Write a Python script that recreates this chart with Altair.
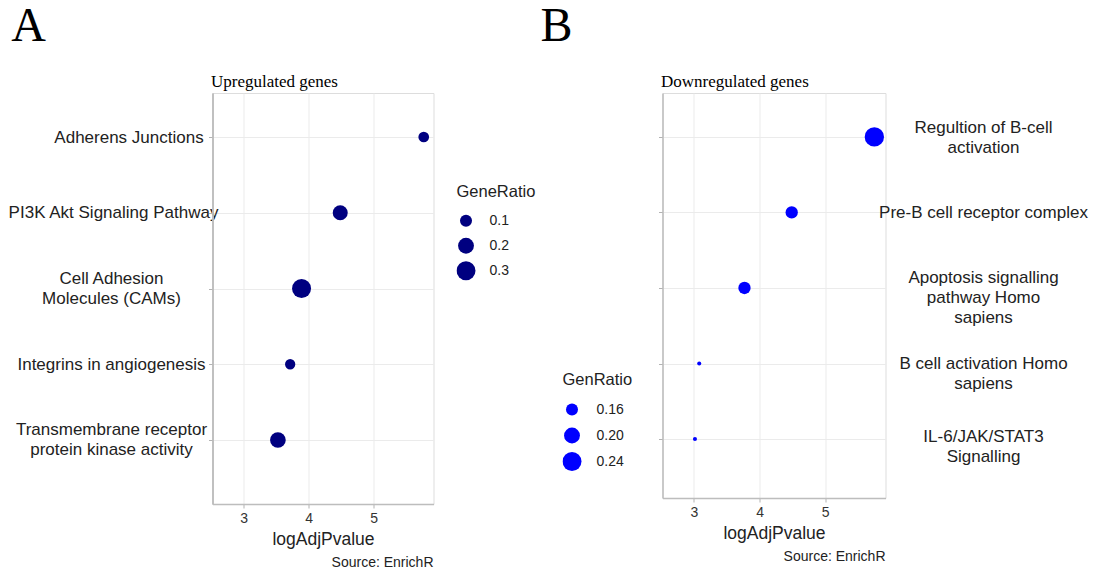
import json
import altair as alt
import pandas as pd

# ---------------- data ----------------
up_terms = [
    "Adherens Junctions",
    "PI3K Akt Signaling Pathway",
    "Cell Adhesion\nMolecules (CAMs)",
    "Integrins in angiogenesis",
    "Transmembrane receptor\nprotein kinase activity",
]
up_logp = [5.77, 4.485, 3.89, 3.715, 3.526]
up_ratio = [0.073, 0.175, 0.30, 0.065, 0.194]
up_legend_values = [0.1, 0.2, 0.3]

down_terms = [
    "Regultion of B-cell\nactivation",
    "Pre-B cell receptor complex",
    "Apoptosis signalling\npathway Homo\nsapiens",
    "B cell activation Homo\nsapiens",
    "IL-6/JAK/STAT3\nSignalling",
]
down_logp = [5.75, 4.49, 3.77, 3.08, 3.015]
down_ratio = [0.245, 0.163, 0.163, 0.113, 0.113]
down_legend_values = [0.16, 0.20, 0.24]

x_grid_values = [3, 3.5, 4, 4.5, 5, 5.5]
x_domain = [2.52, 5.92]
caption_text = "Source: EnrichR"

SANS = "Liberation Sans"
SERIF = "Liberation Serif"
DOMAIN_GREY = "#bdbdbd"
TICK_GREY = "#b3b3b3"
GRID_GREY = "#ebebeb"


def make_panel(terms, logp, ratio, legend_title, legend_vals, legend_fmt, color,
               letter, subtitle, labels_side, width, height, y_domain, legend_xy,
               label_padding, label_offset, title_dx, clip_h, lab_off):
    ranks = list(range(1, len(terms) + 1))
    df = pd.DataFrame({"rank": ranks, "term": terms, "logAdjPvalue": logp, "ratio": ratio})
    label_lines = json.dumps([t.split("\n") for t in terms])
    size_dom = [legend_vals[0], legend_vals[-1]]
    y_scale = alt.Scale(domain=y_domain, reverse=True, nice=False, zero=False)
    on_left = labels_side == "left"

    points = alt.Chart(df).mark_circle(color=color, opacity=1).encode(
        x=alt.X(
            "logAdjPvalue:Q",
            scale=alt.Scale(domain=x_domain, nice=False, zero=False),
            axis=alt.Axis(
                values=x_grid_values,
                format="d",
                labelExpr="datum.value % 1 === 0 ? datum.label : ''",
                title="logAdjPvalue",
                titleFont=SANS, titleFontSize=17.5, titleFontWeight="normal",
                titleColor="#222222", titlePadding=5,
                labelFont=SANS, labelFontSize=14, labelColor="#333333",
                labelPadding=3, labelFlush=False,
                tickSize=4, tickColor=TICK_GREY,
                tickOpacity={"condition": {"test": "datum.value % 1 !== 0", "value": 0}, "value": 1},
                gridColor=GRID_GREY, gridWidth=1,
                domainColor=DOMAIN_GREY, domainWidth=1.5,
            ),
        ),
        y=alt.Y(
            "rank:Q",
            scale=y_scale,
            axis=alt.Axis(
                orient=labels_side,
                values=ranks,
                title=None,
                labelExpr=label_lines + "[datum.value - 1]",
                labelAlign="center", labelBaseline="middle",
                labelPadding=label_padding, labelOffset=label_offset,
                labelFont=SANS, labelFontSize=17, labelColor="#222222",
                labelLineHeight=20, labelLimit=500, labelOverlap=False,
                labelFlush=False,
                ticks=on_left, tickSize=4, tickColor=TICK_GREY,
                domain=on_left, domainColor=DOMAIN_GREY, domainWidth=1.5,
                gridColor=GRID_GREY, gridWidth=1,
            ),
        ),
        size=alt.Size(
            "ratio:Q",
            scale=alt.Scale(domain=size_dom, range=[144, 361]),
            legend=alt.Legend(
                title=legend_title,
                orient="none", legendX=legend_xy[0], legendY=legend_xy[1],
                values=legend_vals, format=legend_fmt,
                titleFont=SANS, titleFontSize=16.5, titleFontWeight="normal",
                titleColor="#222222", titlePadding=8,
                labelFont=SANS, labelFontSize=14, labelColor="#222222",
                labelOffset=lab_off, clipHeight=clip_h, rowPadding=0,
                symbolFillColor=color, symbolStrokeColor=color,
                symbolStrokeWidth=0, symbolOpacity=1, padding=0,
            ),
        ),
    )

    # left-hand axis line, ticks and the panel subtitle (no labels)
    left_axis = alt.Chart(df).mark_point(opacity=0).encode(
        y=alt.Y(
            "rank:Q",
            scale=y_scale,
            axis=alt.Axis(
                orient="left", values=ranks, labels=False, grid=False,
                title=subtitle, titleAngle=0, titleAlign="left",
                titleBaseline="alphabetic", titleX=-2, titleY=-7,
                titleFont=SERIF, titleFontSize=17, titleFontWeight="normal",
                titleColor="black",
                ticks=True, tickSize=4, tickColor=TICK_GREY,
                domain=True, domainColor=DOMAIN_GREY, domainWidth=1.5,
            ),
        ),
    )

    cap = alt.Chart(pd.DataFrame({"caption": [caption_text]})).mark_text(
        align="right", baseline="alphabetic", font=SANS, fontSize=14,
        color="#222222",
    ).encode(
        text="caption:N",
        x=alt.value(width),
        y=alt.value(height + 63),
    )
    return alt.layer(points, left_axis, cap).resolve_axis(y="independent").properties(
        width=width,
        height=height,
        title=alt.TitleParams(
            letter, anchor="start", frame="bounds", font=SERIF, fontSize=48,
            fontWeight="normal", color="black", baseline="alphabetic",
            offset=-17, dx=title_dx,
        ),
    )


panel_a = make_panel(
    up_terms, up_logp, up_ratio, "GeneRatio", up_legend_values, ".1f", "#000080", "A",
    "Upregulated genes", "left", 221, 411, [0.419, 5.845], (244, 91),
    {"condition": [{"test": "datum.value === 1", "value": 80},
                   {"test": "datum.value === 2", "value": 95.5}], "value": 97.5},
    {"condition": {"test": "datum.value === 3 || datum.value === 5", "value": -10}, "value": 0},
    3.5, 24.5, 14,
)

panel_b = make_panel(
    down_terms, down_logp, down_ratio, "GenRatio", down_legend_values, ".2f", "#0000ff", "B",
    "Downregulated genes", "right", 223, 405, [0.419, 5.78], (-100, 279),
    97.5,
    {"condition": [{"test": "datum.value === 1", "value": -9},
                   {"test": "datum.value === 3", "value": -10},
                   {"test": "datum.value === 5", "value": -3}], "value": 0},
    -22, 26, 15,
)

chart = alt.hconcat(panel_a, panel_b, spacing=229, bounds="flush").resolve_scale(
    x="independent", y="independent", size="independent"
).resolve_legend(size="independent").properties(
    padding={"left": -1.5, "top": -6, "right": 0, "bottom": 0},
).configure_view(stroke="#cccccc", strokeWidth=1.5).configure(background="white")

chart.save("out.html", embed_options={"renderer": "svg", "actions": False})
